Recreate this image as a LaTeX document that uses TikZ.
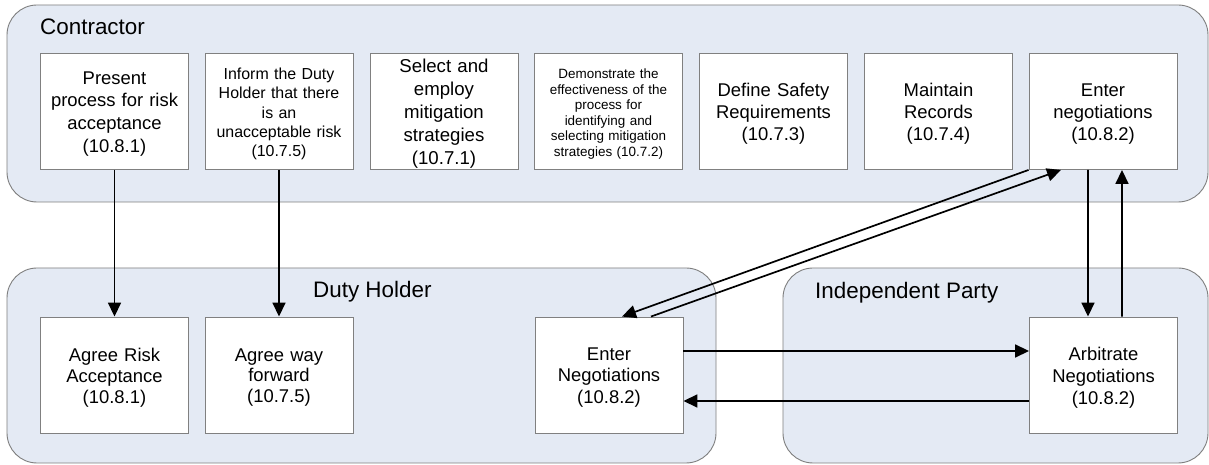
\documentclass[tikz,border=0pt]{standalone}
\usepackage{fontspec}
\setmainfont{Liberation Sans}
\usetikzlibrary{arrows.meta}
\definecolor{lanefill}{HTML}{E4EAF4}
\definecolor{laneline}{HTML}{7F7F7F}
\definecolor{boxline}{HTML}{808080}
\begin{document}
\begin{tikzpicture}[x=1bp,y=-1bp,
  lane/.style={draw=laneline, fill=lanefill, line width=0.9bp, rounded corners=30bp},
  lanetitle/.style={anchor=base west, inner sep=0pt, font=\fontsize{22.5}{27}\selectfont},
  task/.style={draw=boxline, fill=white, line width=0.9bp, minimum width=148bp,
    minimum height=116bp, inner sep=0pt, align=center, text width=146bp,
    font=\fontsize{18.5}{22}\selectfont,
    execute at end node={\endgraf\kern-5bp}},
  flow/.style={line width=1.7bp, -{Triangle[length=14bp,width=13bp]}}
]
\fill[white] (0,0) rectangle (1209,465);
\useasboundingbox (0,0) rectangle (1209,465);

% swimlanes
\draw[lane] (7,5) rectangle (1208,202);
\draw[lane] (7,268) rectangle (716,463);
\draw[lane] (783,268) rectangle (1208,463);
\node[lanetitle] (tcon) at (40,35) {Contractor};
\node[lanetitle] (tdh) at (313,298) {Duty Holder};
\node[lanetitle] (tip) at (815,299) {Independent Party};

% contractor tasks
\node[task, font=\fontsize{18.5}{23}\selectfont] (c1) at (114.5,111.5)
  {Present\\process for risk\\acceptance\\(10.8.1)};
\node[task, font=\fontsize{16}{19.3}\selectfont] (c2) at (279,111.5)
  {Inform the Duty\\Holder that there\\is an\\unacceptable risk\\(10.7.5)};
\node[task, font=\fontsize{18.7}{23}\selectfont] (c3) at (444,111.5)
  {Select and\\employ\\mitigation\\strategies\\(10.7.1)};
\node[task, font=\fontsize{13.5}{15.6}\selectfont] (c4) at (608.5,111.5)
  {Demonstrate the\\effectiveness of the\\process for\\identifying and\\selecting mitigation\\strategies (10.7.2)};
\node[task] (c5) at (773.5,111.5) {Define Safety\\Requirements\\(10.7.3)};
\node[task] (c6) at (938.5,111.5) {Maintain\\Records\\(10.7.4)};
\node[task] (c7) at (1103,111.5) {Enter\\negotiations\\(10.8.2)};

% duty holder tasks
\node[task, font=\fontsize{18.5}{21}\selectfont] (d1) at (114.5,375) {Agree Risk\\Acceptance\\(10.8.1)};
\node[task, font=\fontsize{18.5}{21}\selectfont] (d2) at (279,375) {Agree way\\forward\\(10.7.5)};
\node[task] (d3) at (609,375) {Enter\\Negotiations\\(10.8.2)};

% independent party task
\node[task] (i1) at (1103.5,375) {Arbitrate\\Negotiations\\(10.8.2)};

% flows
\draw[flow] (c1.south) -- (d1.north);
\draw[flow] (c2.south) -- (d2.north);
\draw[flow] ([xshift=-15bp]c7.south) -- ([xshift=-15.5bp]i1.north);
\draw[flow] ([xshift=18.5bp]i1.north) -- ([xshift=19bp]c7.south);
\draw[flow] (c7.south west) -- ([xshift=13bp]d3.north);
\draw[flow] ([xshift=42bp]d3.north) -- ([xshift=-42bp]c7.south);
\draw[flow] ([yshift=24bp]d3.east) -- ([yshift=24bp]i1.west);
\draw[flow] ([yshift=-26bp]i1.west) -- ([yshift=-26bp]d3.east);
\end{tikzpicture}
\end{document}
